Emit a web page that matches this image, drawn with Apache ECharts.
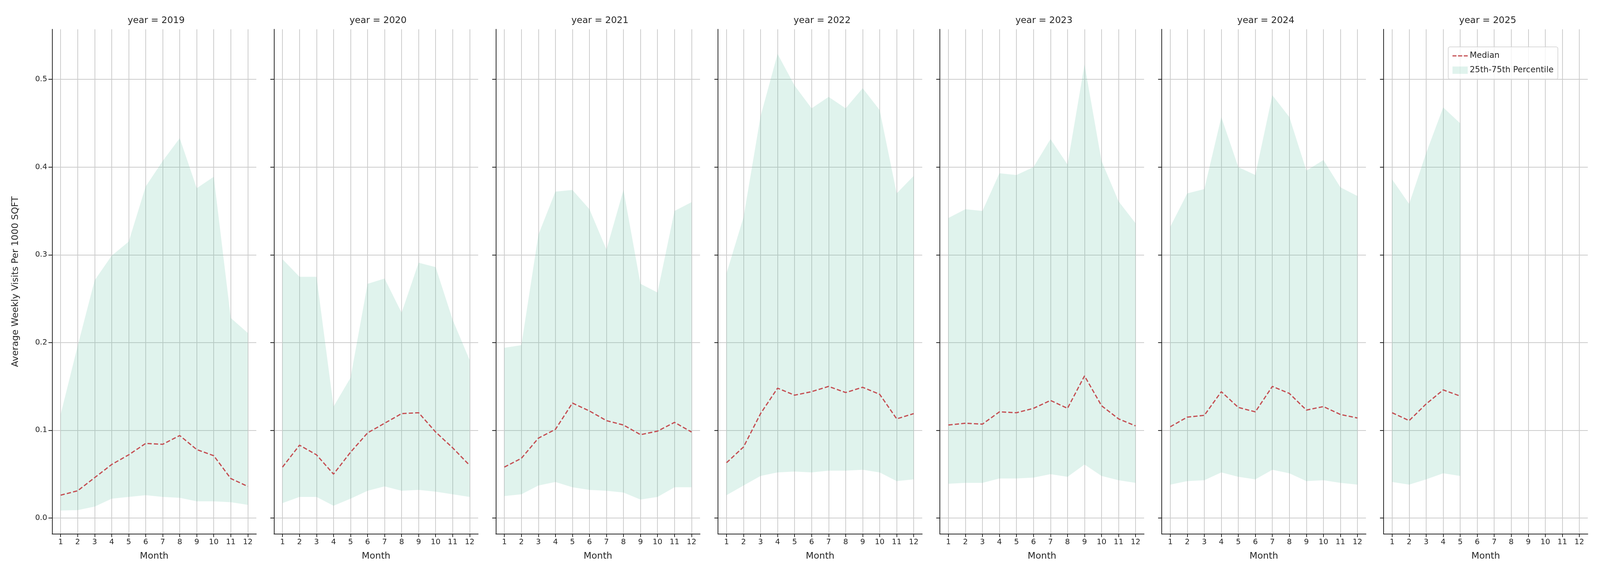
<!DOCTYPE html>
<html><head><meta charset="utf-8">
<script src="https://cdn.jsdelivr.net/npm/echarts@6/dist/echarts.min.js"></script>
<style>html,body{margin:0;padding:0;background:#fff;overflow:hidden}#c{width:100vw;height:100vh}</style>
</head><body><div id="c"></div>
<script>
const months = ['1','2','3','4','5','6','7','8','9','10','11','12'];
const years = ['2019','2020','2021','2022','2023','2024','2025'];
const yTicks = [0.0,0.1,0.2,0.3,0.4,0.5];
const median2019 = [0.026,0.031,0.046,0.061,0.072,0.085,0.084,0.094,0.078,0.071,0.045,0.036];
const q25_2019 = [0.0085,0.009,0.013,0.022,0.024,0.026,0.024,0.023,0.019,0.019,0.018,0.015];
const q75_2019 = [0.118,0.196,0.271,0.299,0.315,0.378,0.407,0.433,0.376,0.389,0.228,0.211];
const median2020 = [0.058,0.083,0.072,0.050,0.075,0.097,0.108,0.119,0.120,0.098,0.080,0.060];
const q25_2020 = [0.017,0.024,0.024,0.014,0.022,0.031,0.036,0.031,0.032,0.030,0.027,0.024];
const q75_2020 = [0.295,0.275,0.275,0.127,0.160,0.267,0.273,0.234,0.291,0.286,0.226,0.180];
const median2021 = [0.058,0.068,0.091,0.101,0.131,0.122,0.111,0.106,0.095,0.099,0.109,0.098];
const q25_2021 = [0.025,0.027,0.037,0.041,0.035,0.032,0.031,0.029,0.021,0.024,0.035,0.035];
const q75_2021 = [0.194,0.197,0.323,0.372,0.374,0.352,0.306,0.374,0.267,0.257,0.350,0.360];
const median2022 = [0.063,0.081,0.119,0.148,0.140,0.144,0.150,0.143,0.149,0.141,0.113,0.119];
const q25_2022 = [0.026,0.037,0.048,0.052,0.053,0.052,0.054,0.054,0.055,0.052,0.042,0.044];
const q75_2022 = [0.279,0.343,0.458,0.529,0.493,0.467,0.480,0.467,0.490,0.465,0.370,0.390];
const median2023 = [0.106,0.108,0.107,0.121,0.120,0.125,0.134,0.125,0.162,0.128,0.113,0.105];
const q25_2023 = [0.039,0.040,0.040,0.045,0.045,0.046,0.050,0.047,0.061,0.048,0.043,0.040];
const q75_2023 = [0.342,0.352,0.350,0.393,0.391,0.400,0.432,0.403,0.517,0.407,0.361,0.336];
const median2024 = [0.104,0.115,0.117,0.144,0.126,0.121,0.150,0.142,0.123,0.127,0.118,0.114];
const q25_2024 = [0.038,0.042,0.043,0.052,0.047,0.044,0.055,0.051,0.042,0.043,0.040,0.038];
const q75_2024 = [0.332,0.370,0.375,0.457,0.400,0.391,0.482,0.457,0.396,0.408,0.377,0.367];
const median2025 = [0.120,0.111,0.130,0.146,0.139];
const q25_2025 = [0.041,0.038,0.044,0.051,0.048];
const q75_2025 = [0.386,0.358,0.416,0.468,0.450];

const medians = [median2019,median2020,median2021,median2022,median2023,median2024,median2025];
const q25s = [q25_2019,q25_2020,q25_2021,q25_2022,q25_2023,q25_2024,q25_2025];
const q75s = [q75_2019,q75_2020,q75_2021,q75_2022,q75_2023,q75_2024,q75_2025];

const el = document.getElementById('c');
const s = (el.clientWidth || window.innerWidth) / 5250;
const sy = (el.clientHeight || window.innerHeight) / 1500;
const FONT = 'DejaVu Sans';
const TXT = '#262626';
const lefts = [171,899,1627,2356,3084,3812,4540];
const W = 670, TOP = 75, H = 1292;
const FILL = 'rgba(102,194,165,0.2)';
const RED = '#c44e52';
const GRID = '#cccccc';

const grid=[], xAxis=[], yAxis=[], series=[], title=[];
years.forEach((yr,i)=>{
  grid.push({left:lefts[i]*s, top:TOP*sy, width:W*s, height:H*sy, containLabel:false});
  title.push({text:'year = '+yr, left:(lefts[i]+W/2)*s, top:36*sy, textAlign:'center',
    textStyle:{fontFamily:FONT, fontSize:30*s, fontWeight:'normal', color:TXT}});
  xAxis.push({type:'category', gridIndex:i, data:months, boundaryGap:true,
    name:'Month', nameLocation:'middle', nameGap:58*s,
    nameTextStyle:{fontFamily:FONT, fontSize:30*s, color:TXT},
    axisLine:{show:true, onZero:false, lineStyle:{color:'#262626', width:2.5*s}},
    axisTick:{show:true, alignWithLabel:true, length:10*s, lineStyle:{color:'#262626', width:2.5*s}},
    axisLabel:{fontFamily:FONT, fontSize:25*s, color:TXT, margin:14*s, interval:0},
    splitLine:{show:false}});
  yAxis.push({type:'value', gridIndex:i, min:-0.0183, max:0.5571,
    name: i===0 ? 'Average Weekly Visits Per 1000 SQFT' : '',
    nameLocation:'middle', nameGap:105*s, nameRotate:90,
    nameTextStyle:{fontFamily:FONT, fontSize:30*s, color:TXT},
    axisLine:{show:true, onZero:false, lineStyle:{color:'#262626', width:2.5*s}},
    axisTick:{show:true, length:12*s, customValues:yTicks, lineStyle:{color:'#262626', width:2.5*s}},
    axisLabel:{show:i===0, customValues:yTicks, fontFamily:FONT, fontSize:25*s, color:TXT, margin:16*s,
      formatter:v=>(+v).toFixed(1)},
    splitLine:{show:false}});
  series.push({name:'_low'+yr, type:'line', xAxisIndex:i, yAxisIndex:i, stack:'band'+yr,
    data:q25s[i], showSymbol:false, symbol:'none', lineStyle:{opacity:0}, silent:true, z:1,
    markLine:{silent:true, symbol:'none', label:{show:false}, z:0, animation:false,
      lineStyle:{color:GRID, width:2.5*s, type:'solid', opacity:1},
      data: months.map(m=>({xAxis:m})).concat(yTicks.map(v=>({yAxis:v})))}});
  series.push({name:'25th-75th Percentile', type:'line', xAxisIndex:i, yAxisIndex:i, stack:'band'+yr,
    data:q75s[i].map((v,k)=>+(v-q25s[i][k]).toFixed(4)), showSymbol:false, symbol:'none',
    color:FILL, itemStyle:{color:FILL}, lineStyle:{opacity:0}, areaStyle:{color:FILL, opacity:1}, silent:true, z:1});
  series.push({name:'Median', type:'line', xAxisIndex:i, yAxisIndex:i, data:medians[i],
    showSymbol:false, symbol:'none', color:RED, itemStyle:{color:RED},
    lineStyle:{color:RED, width:4*s, type:[14*s,7*s]}, z:3});
});

const chart = echarts.init(el, null, {renderer:'canvas'});
chart.setOption({
  animation:false, backgroundColor:'#fff',
  title, grid, xAxis, yAxis, series,
  legend:{left:4752*s, top:120*sy, orient:'vertical', itemGap:20*s, padding:[16*s,14*s,16*s,14*s],
    borderColor:'#d0d0d0', borderWidth:2*s, borderRadius:6*s, backgroundColor:'rgba(255,255,255,0.8)',
    itemWidth:50*s, itemHeight:24*s,
    textStyle:{fontFamily:FONT, fontSize:27*s, color:TXT},
    data:[
      {name:'Median', icon:'path://M0,10h13v4h-13z M18,10h14v4h-14z M37,10h13v4h-13z', itemStyle:{color:RED}},
      {name:'25th-75th Percentile', icon:'rect', itemStyle:{color:FILL}}
    ]}
});
</script></body></html>
